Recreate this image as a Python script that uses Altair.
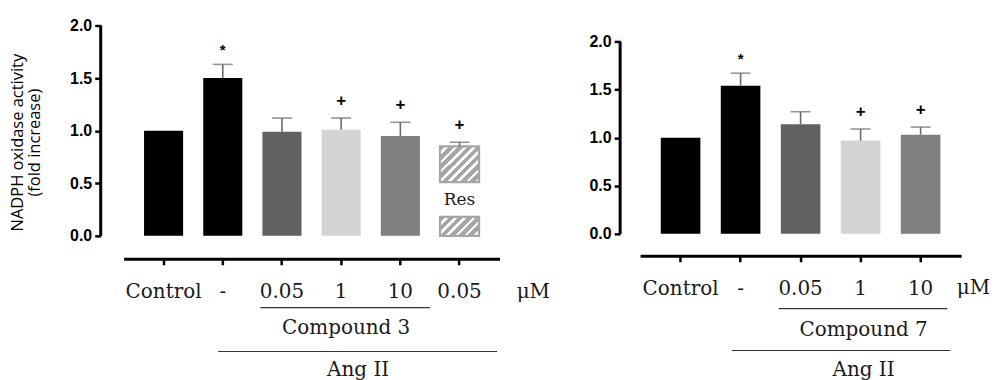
import altair as alt
import pandas as pd

# ---------------- data ----------------
# Left panel: Compound 3 (+ resveratrol reference)
keys_3 = ["ctrl", "ang", "c05", "c1", "c10", "res"]
labels_3 = ["Control", "-", "0.05", "1", "10", "0.05"]
mean_3 = [1.00, 1.50, 0.99, 1.01, 0.95, 0.85]
err_3 = [0.00, 0.13, 0.13, 0.11, 0.13, 0.04]
sig_3 = ["", "*", "", "+", "+", "+"]

# Right panel: Compound 7
keys_7 = ["ctrl", "ang", "c05", "c1", "c10"]
labels_7 = ["Control", "-", "0.05", "1", "10"]
mean_7 = [1.00, 1.54, 1.14, 0.97, 1.03]
err_7 = [0.00, 0.13, 0.13, 0.12, 0.08]
sig_7 = ["", "*", "", "+", "+"]

y_ticks = [0.0, 0.5, 1.0, 1.5, 2.0]
y_title = ["NADPH oxidase activity", "(fold increase)"]
unit_label = "μM"
group_inner = ["Compound 3", "Compound 7"]
group_outer = "Ang II"
res_label = "Res"

# ---------------- styles ----------------
bar_colors = ["#000000", "#000000", "#616161", "#d4d4d4", "#7f7f7f", "#a6a6a6"]
hatch_gray = "#a6a6a6"
err_color = "#6a6a6a"
serif = "DejaVu Serif"
sans = "Liberation Sans"
text_color = "#1a1a1a"


def stripe_gradient(w, h, period=6.5, gray=hatch_gray, gray_frac=0.6):
    r = h / w
    px = (1 + r) / (1 + r * r)
    py = r * px
    n = (w + h) / (2 ** 0.5) / period
    stops = []
    k = 0
    while k < n:
        a = k / n
        b = min((k + gray_frac) / n, 1.0)
        c = min((k + 1) / n, 1.0)
        stops += [
            alt.GradientStop(offset=a, color=gray),
            alt.GradientStop(offset=b, color=gray),
            alt.GradientStop(offset=b, color="white"),
            alt.GradientStop(offset=c, color="white"),
        ]
        k += 1
    return alt.LinearGradient(gradient="linear", stops=stops, x1=0, y1=0, x2=px, y2=py)


def panel(keys, labels, mean, err, sig, width, height, ymax, x_off, y_off,
          show_title, inner_name, inner_span, outer_span, text_dx, mu_dx, ys):
    df = pd.DataFrame({"key": keys, "mean": mean, "err": err, "sig": sig})
    df["top"] = df["mean"] + df["err"]
    base = alt.Chart(df)

    label_expr = ("[" + ",".join("'%s'" % l for l in labels) + "][indexof(["
                  + ",".join("'%s'" % k for k in keys) + "], datum.value)]")
    xscale = alt.Scale(domain=keys, paddingInner=0.34, paddingOuter=0.345)
    yscale = alt.Scale(domain=[0, ymax], nice=False, zero=True)

    xaxis = alt.Axis(title=None, labelExpr=label_expr, labelAngle=0, offset=y_off,
                     domainWidth=3, domainColor="black", tickColor="black",
                     tickSize=6, tickWidth=2.5, labelFont=serif, labelFontSize=20,
                     labelColor=text_color, labelPadding=17, labelFontWeight="normal")
    yaxis_kw = dict(values=y_ticks, format=".1f", domain=False, offset=x_off,
                    tickSize=6, tickWidth=2.5, tickColor="black", grid=False,
                    labelFont=sans, labelFontSize=16, labelFontWeight="bold",
                    labelColor="black", labelPadding=3)
    if show_title:
        yaxis_kw.update(title=y_title, titleFont="Open Sans", titleFontSize=16.5,
                        titleFontWeight="normal", titleColor="black",
                        titleLineHeight=17, titleBaseline="bottom",
                        titleX=-75, titleY=117, titleAngle=270)
    else:
        yaxis_kw.update(title=None)
    yaxis = alt.Axis(**yaxis_kw)

    x = alt.X("key:N", scale=xscale, sort=keys, axis=xaxis)
    y = alt.Y("mean:Q", scale=yscale, axis=yaxis)

    bars = base.transform_filter("datum.key != 'res'").mark_bar().encode(
        x=x, y=y,
        color=alt.Color("key:N", scale=alt.Scale(domain=keys, range=bar_colors[:len(keys)]),
                        legend=None))

    ebar = base.transform_filter("datum.err > 0").mark_rule(
        color=err_color, strokeWidth=1.6).encode(x="key:N", y="mean:Q", y2="top:Q")
    ecap = base.transform_filter("datum.err > 0").mark_tick(
        color=err_color, thickness=1.6, size=20, orient="horizontal").encode(
        x="key:N", y="top:Q")
    stars = base.transform_filter("datum.sig == '*'").mark_text(
        font=sans, fontSize=15, fontWeight="bold", color="black", baseline="middle",
        dy=-14).encode(x="key:N", y="top:Q", text="sig:N")
    plus = base.transform_filter("datum.sig == '+'").mark_text(
        font=sans, fontSize=17, fontWeight="bold", color="black", baseline="middle",
        dy=-17).encode(x="key:N", y="top:Q", text="sig:N")

    yline = base.transform_filter("datum.key == 'ctrl'").mark_rule(
        color="black", strokeWidth=3).encode(
        x=alt.value(-x_off), y=alt.datum(0), y2=alt.datum(2))

    line_in = base.transform_filter("datum.key == 'ctrl'").mark_rule(
        color="#333333", strokeWidth=1.2, xOffset=inner_span[2], x2Offset=inner_span[3]).encode(
        x=alt.XDatum(datum=inner_span[0], bandPosition=0),
        x2=alt.X2Datum(datum=inner_span[1], bandPosition=1),
        y=alt.value(ys[0]))
    line_out = base.transform_filter("datum.key == 'ctrl'").mark_rule(
        color="#333333", strokeWidth=1.2, xOffset=outer_span[2], x2Offset=outer_span[3]).encode(
        x=alt.XDatum(datum=outer_span[0], bandPosition=0),
        x2=alt.X2Datum(datum=outer_span[1], bandPosition=1),
        y=alt.value(ys[2]))
    txt_kw = dict(font=serif, fontSize=20, color=text_color, baseline="alphabetic", align="center")
    t_in = base.transform_filter("datum.key == 'ctrl'").mark_text(
        text=inner_name, dx=text_dx[0], **txt_kw).encode(x=alt.datum("c1"), y=alt.value(ys[1]))
    t_out = base.transform_filter("datum.key == 'ctrl'").mark_text(
        text=group_outer, dx=text_dx[1], **txt_kw).encode(x=alt.datum("c1"), y=alt.value(ys[3]))
    t_mu = base.transform_filter("datum.key == 'ctrl'").mark_text(
        text=unit_label, dx=mu_dx, **txt_kw).encode(x=alt.datum(keys[-1]), y=alt.value(ys[4]))

    front = [ebar, ecap, stars, plus, yline, line_in, line_out, t_in, t_out, t_mu]
    layers = [bars] + front

    if "res" in keys:
        unit = height / ymax
        bw = 39.0
        r = df[df.key == "res"].iloc[0]
        hi, lo = 0.51, 0.18
        up = base.transform_filter("datum.key == 'res'").mark_bar(
            fill=stripe_gradient(bw, (r["mean"] - hi) * unit), stroke=hatch_gray,
            strokeWidth=2.2).encode(x="key:N", y="mean:Q", y2=alt.datum(hi))
        dn = base.transform_filter("datum.key == 'res'").mark_bar(
            fill=stripe_gradient(bw, lo * unit), stroke=hatch_gray,
            strokeWidth=2.2).encode(x="key:N", y=alt.datum(lo), y2=alt.datum(0))
        rt = base.transform_filter("datum.key == 'res'").mark_text(
            text=res_label, font=serif, fontSize=17, color=text_color,
            baseline="middle").encode(x="key:N", y=alt.datum((hi + lo) / 2))
        layers = [bars, up, dn, rt] + front

    return alt.layer(*layers).properties(width=width, height=height)


left = panel(keys_3, labels_3, mean_3, err_3, sig_3, 377, 211, 2.0, 23, 23, True,
             group_inner[0], ("c05", "c10", -2, 10), ("ang", "res", 15, 18),
             (5, 17), 74, (283, 309, 327, 352, 273))
right = panel(keys_7, labels_7, mean_7, err_7, sig_7, 322, 209, 2.166, 20, 22, False,
              group_inner[1], ("c05", "c10", -2, 7), ("ang", "c10", 11, 10),
              (3, 3), 53, (284, 311, 326, 352, 269))

chart = alt.hconcat(left, right, spacing=141, bounds="flush").properties(
    padding={"left": 10, "top": 17, "right": 5, "bottom": 0},
    background="white",
).configure_view(stroke=None)

chart.save("out.html", embed_options={"renderer": "svg", "actions": False})
